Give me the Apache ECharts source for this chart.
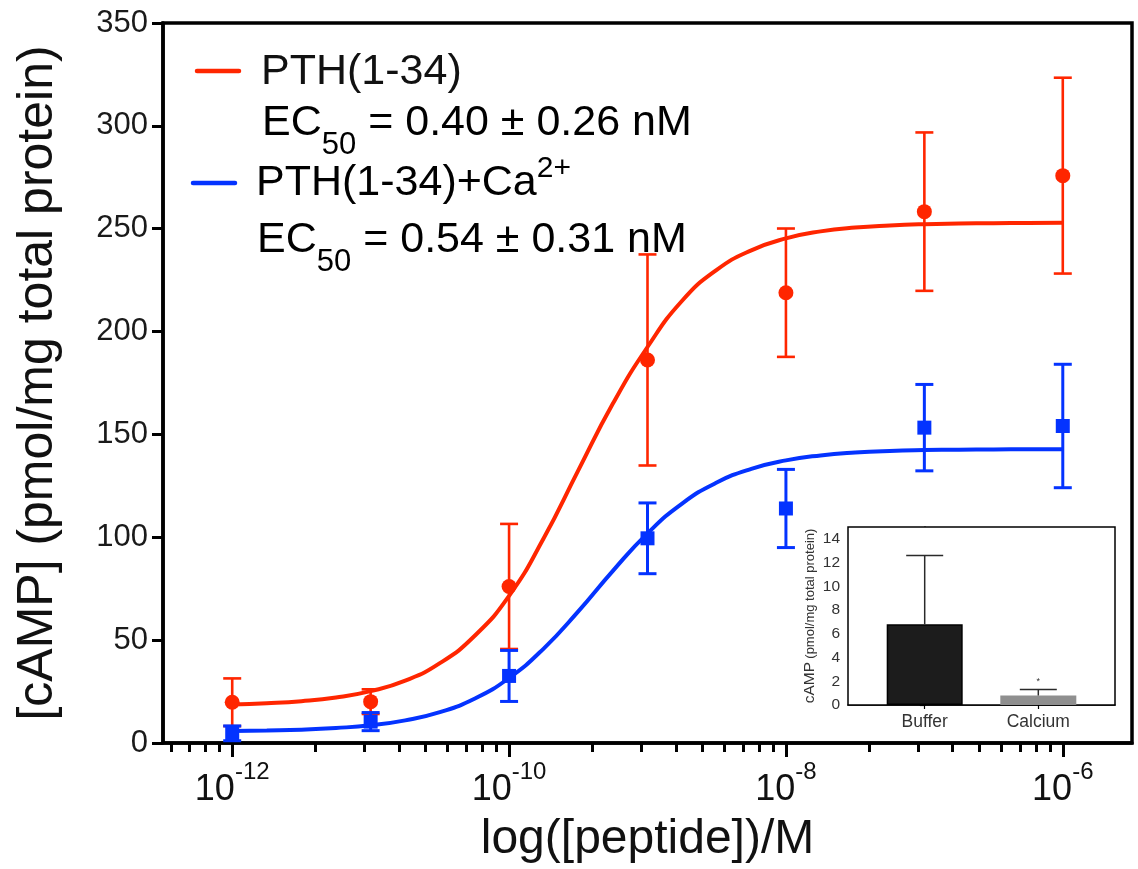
<!DOCTYPE html>
<html>
<head>
<meta charset="utf-8">
<script src="https://cdn.jsdelivr.net/npm/echarts@6/dist/echarts.min.js"></script>
<style>
  html, body { margin: 0; padding: 0; background: #fff; }
  #chart { width: 1138px; height: 869px; }
</style>
</head>
<body>
<div id="chart"></div>
<script>
// ---------------- data ----------------
const concentrations = [1e-12, 1e-11, 1e-10, 1e-9, 1e-8, 1e-7, 1e-6];
const pthMean = [19.8, 20.1, 76.1, 186.2, 218.9, 258.3, 275.8];
const pthSem  = [11.6, 6.0, 30.4, 51.3, 31.2, 38.5, 47.6];
const caMean  = [4.7, 10.4, 32.6, 99.5, 114.0, 153.3, 154.1];
const caSem   = [3.6, 4.4, 12.4, 17.2, 19.0, 21.0, 30.0];

// fitted curves (x in log10 M)
const fitLogX = [-12, -11.75, -11.5, -11.25, -11, -10.75, -10.5, -10.25, -10, -9.75, -9.5, -9.25, -9,
                 -8.75, -8.5, -8.25, -8, -7.75, -7.5, -7.25, -7, -6.75, -6.5, -6.25, -6];
const pthFit = [18.7, 19.3, 20.3, 22.1, 25.2, 30.3, 38.8, 52.0, 71.5, 99.5, 132.5, 165.0, 192.5,
                215.0, 230.0, 239.5, 245.3, 248.7, 250.6, 251.6, 252.2, 252.5, 252.7, 252.8, 252.9];
const caFit  = [5.8, 6.1, 6.5, 7.3, 8.6, 11.0, 15.0, 21.5, 31.6, 45.9, 64.0, 83.7, 101.9,
                116.4, 126.6, 133.3, 137.4, 139.8, 141.2, 142.0, 142.4, 142.6, 142.7, 142.8, 142.8];

const xTickExponents = [-12, -10, -8, -6];
const yTicks = [0, 50, 100, 150, 200, 250, 300, 350];

const seriesNames = ['PTH(1-34)', 'PTH(1-34)+Ca'];
const ec50Text = ['0.40 ± 0.26 nM', '0.54 ± 0.31 nM'];

// inset
const insetCategories = ['Buffer', 'Calcium'];
const insetMean = [6.8, 0.8];
const insetSem  = [5.8, 0.5];
const insetSig  = ['', '*'];
const insetTicks = [0, 2, 4, 6, 8, 10, 12, 14];

// ---------------- helpers ----------------
const FONT = "'Liberation Sans', Arial, Helvetica, sans-serif";
const RED = '#ff2600';
const BLUE = '#0433ff';

const logX = concentrations.map(c => Math.log10(c));

// GraphPad style minor ticks (base-100 decades)
const minorTicks = [];
for (let n = -14; n <= -8; n += 2) {
  for (let k = 2; k <= 9; k++) {
    const v = n + 2 * Math.log10(k);
    if (v >= -12.5 && v <= -6) minorTicks.push(v);
  }
}

function errorBars(color, width, halfCap) {
  return function (params, api) {
    const x = api.value(0);
    const top = api.coord([x, api.value(2)]);
    const bot = api.coord([x, api.value(1)]);
    const style = { stroke: color, lineWidth: width };
    return {
      type: 'group',
      children: [
        { type: 'line', shape: { x1: top[0], y1: top[1], x2: bot[0], y2: bot[1] }, style },
        { type: 'line', shape: { x1: top[0] - halfCap, y1: top[1], x2: top[0] + halfCap, y2: top[1] }, style },
        { type: 'line', shape: { x1: bot[0] - halfCap, y1: bot[1], x2: bot[0] + halfCap, y2: bot[1] }, style }
      ]
    };
  };
}

function insetErrors(params, api) {
  const x = api.value(0);
  const base = api.coord([x, api.value(1)]);
  const top = api.coord([x, api.value(2)]);
  const style = { stroke: '#2a2a2a', lineWidth: 1.5 };
  const children = [
    { type: 'line', shape: { x1: base[0], y1: base[1], x2: top[0], y2: top[1] }, style },
    { type: 'line', shape: { x1: top[0] - 18.5, y1: top[1], x2: top[0] + 18.5, y2: top[1] }, style }
  ];
  const sig = insetSig[params.dataIndex];
  if (sig) {
    children.push({
      type: 'text',
      style: { x: top[0], y: top[1] - 8, text: sig, fill: '#333', font: '9px ' + FONT, align: 'center', verticalAlign: 'middle' }
    });
  }
  return { type: 'group', children };
}

const chart = echarts.init(document.getElementById('chart'), null, { renderer: 'canvas' });

const mainTextRich = {
  m: { fontSize: 43, fontFamily: FONT, color: '#111', lineHeight: 75 },
  sub: { fontSize: 31, fontFamily: FONT, color: '#111', lineHeight: 31, verticalAlign: 'bottom' }
};

const option = {
  backgroundColor: '#fff',
  animation: false,
  grid: [
    { left: 163, right: 6, top: 23, bottom: 126, show: true, borderColor: '#000', borderWidth: 3.5,
      backgroundColor: 'transparent', containLabel: false, outerBoundsMode: 'none' },
    { left: 848, right: 23, top: 527, bottom: 164, show: true, borderColor: '#000', borderWidth: 1.5,
      backgroundColor: '#fff', containLabel: false, outerBoundsMode: 'none', z: 5 }
  ],
  xAxis: [
    {
      type: 'value', gridIndex: 0, min: -12.5, max: -5.5, position: 'bottom',
      name: 'log([peptide])/M', nameLocation: 'middle', nameGap: 73,
      nameTextStyle: { fontSize: 48, fontFamily: FONT, color: '#111' },
      axisLine: { show: true, onZero: false, lineStyle: { color: '#000', width: 3.5 } },
      axisTick: { show: true, length: 14, customValues: xTickExponents, lineStyle: { color: '#000', width: 3 } },
      axisLabel: {
        show: true, margin: 17, customValues: xTickExponents,
        formatter: v => '{b|10}{s|' + Math.round(v) + '}',
        rich: {
          b: { fontSize: 36, fontFamily: FONT, color: '#111', lineHeight: 60 },
          s: { fontSize: 24, fontFamily: FONT, color: '#111', lineHeight: 24, verticalAlign: 'top' }
        }
      },
      splitLine: { show: false }
    },
    {
      type: 'value', gridIndex: 0, min: -12.5, max: -5.5, position: 'bottom',
      axisLine: { show: false, onZero: false },
      axisTick: { show: true, length: 9, customValues: minorTicks, lineStyle: { color: '#000', width: 3 } },
      axisLabel: { show: false },
      splitLine: { show: false }
    },
    {
      type: 'value', gridIndex: 1, min: -0.675, max: 1.675, position: 'bottom',
      axisLine: { show: true, onZero: false, lineStyle: { color: '#000', width: 1.5 } },
      axisTick: { show: true, length: 4, customValues: [0, 1], lineStyle: { color: '#000', width: 1.2 } },
      axisLabel: {
        show: true, margin: 8, customValues: [0, 1],
        formatter: v => insetCategories[Math.round(v)],
        fontSize: 17.5, fontFamily: FONT, color: '#333'
      },
      splitLine: { show: false }
    }
  ],
  yAxis: [
    {
      type: 'value', gridIndex: 0, min: 0, max: 350, interval: 50,
      name: '[cAMP] (pmol/mg total protein)', nameLocation: 'middle', nameGap: 100,
      nameTextStyle: { fontSize: 50, fontFamily: FONT, color: '#111' },
      axisLine: { show: true, lineStyle: { color: '#000', width: 3.5 } },
      axisTick: { show: true, length: 11, lineStyle: { color: '#000', width: 3 } },
      axisLabel: { show: true, margin: 15, fontSize: 31, fontFamily: FONT, color: '#1a1a1a' },
      splitLine: { show: false }
    },
    {
      type: 'value', gridIndex: 1, min: 0, max: 15,
      name: '{a|cAMP} {b|(pmol/mg total protein)}', nameLocation: 'middle', nameGap: 30,
      nameTextStyle: {
        rich: {
          a: { fontSize: 15.5, fontFamily: FONT, color: '#333' },
          b: { fontSize: 13, fontFamily: FONT, color: '#333' }
        }
      },
      axisLine: { show: true, lineStyle: { color: '#000', width: 1.5 } },
      axisTick: { show: true, length: 5, customValues: insetTicks, lineStyle: { color: '#000', width: 1.2 } },
      axisLabel: { show: true, margin: 8, customValues: insetTicks, fontSize: 15.5, fontFamily: FONT, color: '#333' },
      splitLine: { show: false }
    }
  ],
  series: [
    {
      name: seriesNames[0] + ' fit', type: 'line', xAxisIndex: 0, yAxisIndex: 0,
      data: fitLogX.map((x, i) => [x, pthFit[i]]), smooth: true, showSymbol: false,
      lineStyle: { color: RED, width: 4 }, z: 2
    },
    {
      name: seriesNames[1] + ' fit', type: 'line', xAxisIndex: 0, yAxisIndex: 0,
      data: fitLogX.map((x, i) => [x, caFit[i]]), smooth: true, showSymbol: false,
      lineStyle: { color: BLUE, width: 4 }, z: 2
    },
    {
      name: seriesNames[0] + ' err', type: 'custom', xAxisIndex: 0, yAxisIndex: 0,
      renderItem: errorBars(RED, 2.6, 9),
      encode: { x: 0, y: [1, 2] },
      data: logX.map((x, i) => [x, pthMean[i] - pthSem[i], pthMean[i] + pthSem[i]]), z: 3
    },
    {
      name: seriesNames[1] + ' err', type: 'custom', xAxisIndex: 0, yAxisIndex: 0,
      renderItem: errorBars(BLUE, 3, 9),
      encode: { x: 0, y: [1, 2] },
      data: logX.map((x, i) => [x, caMean[i] - caSem[i], caMean[i] + caSem[i]]), z: 3
    },
    {
      name: seriesNames[0], type: 'scatter', xAxisIndex: 0, yAxisIndex: 0,
      data: logX.map((x, i) => [x, pthMean[i]]), symbol: 'circle', symbolSize: 15,
      itemStyle: { color: RED, opacity: 1 }, z: 4
    },
    {
      name: seriesNames[1], type: 'scatter', xAxisIndex: 0, yAxisIndex: 0,
      data: logX.map((x, i) => [x, caMean[i]]), symbol: 'rect', symbolSize: 14,
      itemStyle: { color: BLUE, opacity: 1 }, z: 4
    },
    {
      name: 'inset bars', type: 'bar', xAxisIndex: 2, yAxisIndex: 1,
      data: insetMean.map((m, i) => ({
        value: [i, m],
        itemStyle: i === 0
          ? { color: '#1c1c1c', borderColor: '#000', borderWidth: 1.5 }
          : { color: '#8f8f8f', borderColor: '#8f8f8f', borderWidth: 0 }
      })),
      barWidth: 76, z: 6
    },
    {
      name: 'inset err', type: 'custom', xAxisIndex: 2, yAxisIndex: 1,
      renderItem: insetErrors,
      encode: { x: 0, y: [1, 2] },
      data: insetMean.map((m, i) => [i, m, m + insetSem[i]]), z: 7
    }
  ],
  graphic: [
    { type: 'line', shape: { x1: 197, y1: 71, x2: 239, y2: 71 }, style: { stroke: RED, lineWidth: 4.5, lineCap: 'round' } },
    { type: 'text', x: 261, y: 72, style: { text: seriesNames[0], font: '43px ' + FONT, fill: '#111', verticalAlign: 'middle' } },
    { type: 'text', x: 262, y: 85.5, style: {
        text: '{m|EC}{sub|50}{m| = ' + ec50Text[0] + '}', rich: mainTextRich, verticalAlign: 'top' } },
    { type: 'line', shape: { x1: 193, y1: 183, x2: 235, y2: 183 }, style: { stroke: BLUE, lineWidth: 4.5, lineCap: 'round' } },
    { type: 'text', x: 256, y: 153.5, style: {
        text: '{m|' + seriesNames[1] + '}{sup|2+}',
        rich: {
          m: { fontSize: 43, fontFamily: FONT, color: '#111', lineHeight: 60 },
          sup: { fontSize: 30, fontFamily: FONT, color: '#111', lineHeight: 30, verticalAlign: 'top' }
        },
        verticalAlign: 'top' } },
    { type: 'text', x: 257, y: 202.5, style: {
        text: '{m|EC}{sub|50}{m| = ' + ec50Text[1] + '}', rich: mainTextRich, verticalAlign: 'top' } }
  ]
};

chart.setOption(option);
</script>
</body>
</html>
